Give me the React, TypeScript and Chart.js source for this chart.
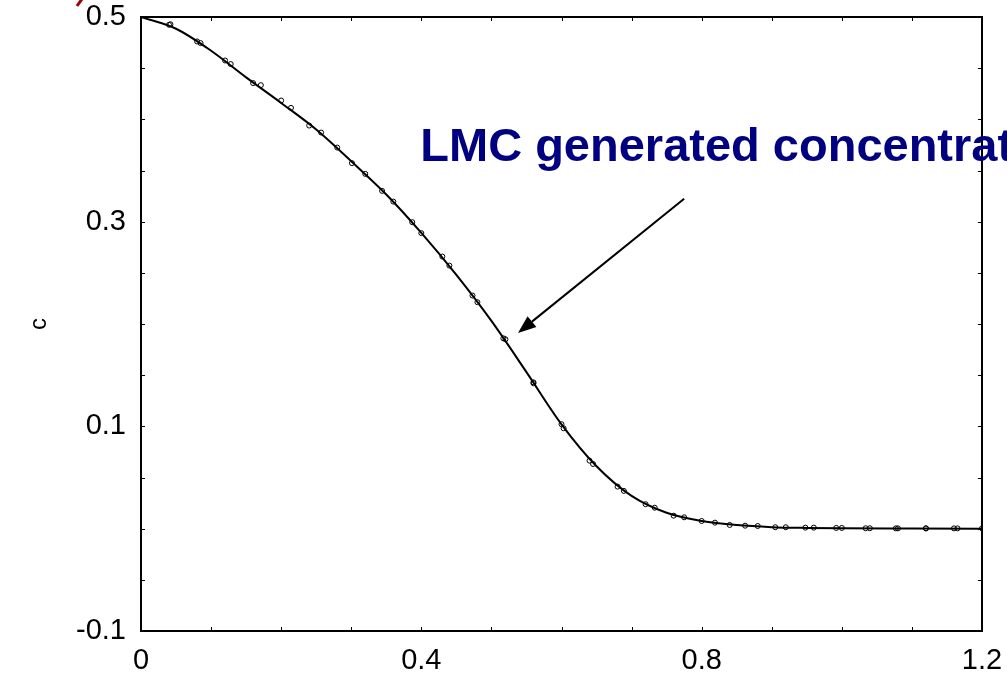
import React, { useEffect, useRef } from 'react';
import { Chart, registerables } from 'chart.js';

Chart.register(...registerables);

// Series A (open circles)
const seriesAX = [0.04, 0.08, 0.12, 0.16, 0.20, 0.24, 0.28, 0.32, 0.36, 0.40, 0.44, 0.48, 0.52, 0.56, 0.60, 0.64, 0.68, 0.72, 0.76, 0.80, 0.84, 0.88, 0.92, 0.96, 1.00, 1.04, 1.08, 1.12, 1.16, 1.20];
const seriesAY = [0.4924, 0.4761, 0.4575, 0.4354, 0.4184, 0.3939, 0.3724, 0.3467, 0.3196, 0.2888, 0.2571, 0.2213, 0.1851, 0.1421, 0.1021, 0.0665, 0.0411, 0.0239, 0.0127, 0.0075, 0.0036, 0.0026, 0.0014, 0.0010, 0.0007, 0.0004, 0.0003, 0.0003, 0.0003, 0.0003];

// Series B (open circles)
const seriesBX = [0.042, 0.085, 0.128, 0.171, 0.214, 0.257, 0.301, 0.344, 0.387, 0.430, 0.473, 0.517, 0.560, 0.603, 0.645, 0.689, 0.733, 0.775, 0.819, 0.862, 0.905, 0.948, 0.992, 1.034, 1.077, 1.120, 1.165];
const seriesBY = [0.4929, 0.4745, 0.4540, 0.4334, 0.4112, 0.3871, 0.3572, 0.3301, 0.2995, 0.2659, 0.2278, 0.1860, 0.1430, 0.0981, 0.0632, 0.0369, 0.0205, 0.0111, 0.0059, 0.0029, 0.0014, 0.0010, 0.0007, 0.0004, 0.0003, 0.0003, 0.0003];

// Solid curve
const curveX = [0, 0.05, 0.10, 0.15, 0.20, 0.25, 0.30, 0.35, 0.40, 0.45, 0.50, 0.55, 0.60, 0.65, 0.70, 0.75, 0.80, 0.85, 0.90, 0.95, 1.00, 1.10, 1.20];
const curveY = [0.5, 0.4885, 0.467, 0.441, 0.416, 0.390, 0.359, 0.3265, 0.289, 0.248, 0.203, 0.153, 0.102, 0.061, 0.032, 0.0155, 0.0075, 0.0035, 0.0015, 0.0007, 0.0003, 0.0001, 0];

// Tick labels shown
const xTickValues = [0, 0.4, 0.8, 1.2];
const xTickLabels = ['0', '0.4', '0.8', '1.2'];
const yTickValues = [-0.1, 0.1, 0.3, 0.5];
const yTickLabels = ['-0.1', '0.1', '0.3', '0.5'];

const yAxisTitle = 'c';
const annotationText = 'LMC generated concentration';
const arrowFrom = [0.775, 0.3223];
const arrowTo = [0.5379, 0.1913];
const textAnchor = [0.3985, 0.359];

const FONT = '"Liberation Sans", Arial, Helvetica, sans-serif';

const decor = {
  id: 'decor',
  afterDraw(chart: any) {
    const { ctx, chartArea: a, scales } = chart;
    const xs = scales.x;
    const ys = scales.y;
    ctx.save();
    // frame
    ctx.strokeStyle = '#000';
    ctx.lineWidth = 2;
    ctx.strokeRect(a.left, a.top, a.right - a.left, a.bottom - a.top);
    // inward ticks
    ctx.lineWidth = 1;
    ctx.beginPath();
    xs.ticks.forEach((t: any) => {
      const px = Math.round(xs.getPixelForValue(t.value)) + 0.5;
      ctx.moveTo(px, a.bottom);
      ctx.lineTo(px, a.bottom - 4);
      ctx.moveTo(px, a.top);
      ctx.lineTo(px, a.top + 4);
    });
    ys.ticks.forEach((t: any) => {
      const py = Math.round(ys.getPixelForValue(t.value)) + 0.5;
      ctx.moveTo(a.left, py);
      ctx.lineTo(a.left + 4, py);
      ctx.moveTo(a.right, py);
      ctx.lineTo(a.right - 4, py);
    });
    ctx.stroke();

    // tick labels
    ctx.fillStyle = '#000';
    ctx.font = `29px ${FONT}`;
    ctx.textAlign = 'center';
    ctx.textBaseline = 'top';
    xTickValues.forEach((v, i) => {
      ctx.fillText(xTickLabels[i], xs.getPixelForValue(v), a.bottom + 15);
    });
    ctx.textAlign = 'right';
    ctx.textBaseline = 'middle';
    yTickValues.forEach((v, i) => {
      ctx.fillText(yTickLabels[i], a.left - 15, ys.getPixelForValue(v));
    });

    // arrow
    const x0 = xs.getPixelForValue(arrowFrom[0]);
    const y0 = ys.getPixelForValue(arrowFrom[1]);
    const x1 = xs.getPixelForValue(arrowTo[0]);
    const y1 = ys.getPixelForValue(arrowTo[1]);
    const ang = Math.atan2(y1 - y0, x1 - x0);
    const headLen = 18;
    const headHalf = 7;
    const bx = x1 - headLen * Math.cos(ang);
    const by = y1 - headLen * Math.sin(ang);
    ctx.strokeStyle = '#000';
    ctx.fillStyle = '#000';
    ctx.lineWidth = 2;
    ctx.beginPath();
    ctx.moveTo(x0, y0);
    ctx.lineTo(bx, by);
    ctx.stroke();
    ctx.beginPath();
    ctx.moveTo(x1, y1);
    ctx.lineTo(bx + headHalf * Math.sin(ang), by - headHalf * Math.cos(ang));
    ctx.lineTo(bx - headHalf * Math.sin(ang), by + headHalf * Math.cos(ang));
    ctx.closePath();
    ctx.fill();

    // annotation text
    ctx.fillStyle = '#000080';
    ctx.font = `bold 47px ${FONT}`;
    ctx.textAlign = 'left';
    ctx.textBaseline = 'alphabetic';
    ctx.fillText(annotationText, xs.getPixelForValue(textAnchor[0]), ys.getPixelForValue(textAnchor[1]));

    // y axis title
    ctx.save();
    ctx.translate(39, (a.top + a.bottom) / 2);
    ctx.rotate(-Math.PI / 2);
    ctx.fillStyle = '#000';
    ctx.font = `24px ${FONT}`;
    ctx.textAlign = 'center';
    ctx.textBaseline = 'middle';
    ctx.fillText(yAxisTitle, 0, 0);
    ctx.restore();

    // partial red mark at top-left
    ctx.strokeStyle = '#a00000';
    ctx.lineWidth = 3;
    ctx.beginPath();
    ctx.moveTo(77, 6);
    ctx.lineTo(82, -1);
    ctx.stroke();
    ctx.restore();
  },
};

export default function App() {
  const ref = useRef<HTMLCanvasElement | null>(null);
  useEffect(() => {
    if (!ref.current) return;
    const toPts = (xs: number[], ys: number[]) => xs.map((x, i) => ({ x, y: ys[i] }));
    const chart = new Chart(ref.current, {
      type: 'scatter',
      data: {
        datasets: [
          {
            type: 'line',
            data: toPts(curveX, curveY),
            borderColor: '#000',
            borderWidth: 2,
            pointRadius: 0,
            cubicInterpolationMode: 'monotone',
            fill: false,
            order: 2,
          } as any,
          {
            data: toPts(seriesAX, seriesAY),
            borderColor: '#000',
            backgroundColor: 'rgba(0,0,0,0)',
            borderWidth: 1,
            pointRadius: 2.5,
            showLine: false,
            order: 1,
          },
          {
            data: toPts(seriesBX, seriesBY),
            borderColor: '#000',
            backgroundColor: 'rgba(0,0,0,0)',
            borderWidth: 1,
            pointRadius: 2.5,
            showLine: false,
            order: 1,
          },
        ],
      },
      plugins: [decor],
      options: {
        animation: false,
        responsive: false,
        devicePixelRatio: 1,
        layout: { padding: { left: 0, top: 17, right: 25, bottom: 0 } },
        plugins: { legend: { display: false }, tooltip: { enabled: false } },
        scales: {
          x: {
            type: 'linear',
            min: 0,
            max: 1.2,
            grid: { display: false, drawTicks: false },
            border: { display: false },
            afterFit: (s: any) => { s.height = 46; },
            ticks: { display: false, stepSize: 0.1, autoSkip: false },
          },
          y: {
            type: 'linear',
            min: -0.1,
            max: 0.5,
            grid: { display: false, drawTicks: false },
            border: { display: false },
            afterFit: (s: any) => { s.width = 141; },
            ticks: { display: false, stepSize: 0.05, autoSkip: false },
          },
        },
      },
    });
    return () => chart.destroy();
  }, []);
  return (
    <div style={{ position: 'fixed', left: 0, top: 0, width: 1007, height: 677, background: '#fff' }}>
      <canvas ref={ref} width={1007} height={677} style={{ display: 'block' }} />
    </div>
  );
}
